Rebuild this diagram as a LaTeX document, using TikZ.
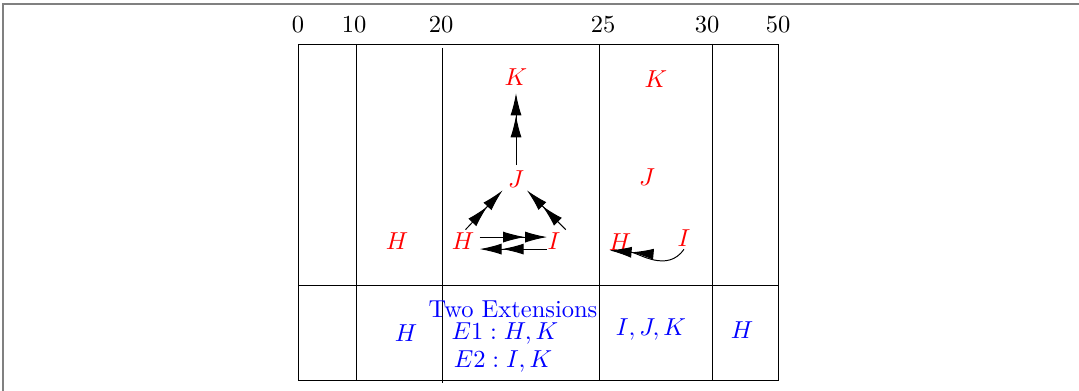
\documentclass[tikz,border=0pt]{standalone}
\usepackage{tikz}
\usetikzlibrary{arrows.meta}

\begin{document}
\begin{tikzpicture}[
	x=0.408pt, y=-0.408pt,
	arg/.style={text=red, inner sep=1pt},
	ext/.style={text=blue, inner sep=1pt},
	tick/.style={inner sep=1pt},
	att/.style={-{Latex[length=9pt,width=4.5pt]Latex[length=9pt,width=4.5pt]}}
]
\useasboundingbox (0,0) rectangle (1079,391);
\draw[gray, line width=0.8pt] (3,400) |- (1090,4);

% grid of the table
\draw (298,44) rectangle (778,380);
\draw (298,285) -- (778,285);
\draw (356,44) -- (356,380);
\draw (442,48) -- (442,383);
\draw (599,44) -- (599,380);
\draw (712,44) -- (712,380);

% column marks
\node[tick] (m0) at (298,25) {0};
\node[tick] (m10) at (354,25) {10};
\node[tick] (m20) at (441,25) {20};
\node[tick] (m25) at (603,25) {25};
\node[tick] (m30) at (707,25) {30};
\node[tick] (m50) at (778,25) {50};

% arguments
\node[arg] (H1) at (397,241) {$H$};

\node[arg] (K2) at (516,77) {$K$};
\node[arg] (J2) at (516,179) {$J$};
\node[arg] (H2) at (463,241) {$H$};
\node[arg] (I2) at (554,241) {$I$};

\node[arg] (K3) at (656,79) {$K$};
\node[arg] (J3) at (647,177) {$J$};
\node[arg] (H3) at (620,242) {$H$};
\node[arg] (I3) at (684,238) {$I$};

% attacks
\draw[att] ([yshift=1pt]J2.north) -- ([yshift=-2pt]K2.south);
\draw[att] ([xshift=1pt]H2.north) -- ([xshift=-1pt]J2.south west);
\draw[att] ([xshift=1pt]I2.north east) -- (J2.south east);
\draw[att] ([shift={(1pt,1.6pt)}]H2.east) -- ([shift={(1pt,1.6pt)}]I2.west);
\draw[att] ([shift={(1pt,-3.3pt)}]I2.west) -- ([shift={(1pt,-3.3pt)}]H2.east);
\draw[att] (I3.south) to[out=-125, in=-5] ([shift={(1.5pt,1.2pt)}]H3.south west);

% extensions
\node[ext] (e10) at (406,333) {$H$};
\node[ext] (etwo) at (513,309) {Two Extensions};
\node[ext] (eone) at (505,334) {$E1 : H, K$};
\node[ext] (etwob) at (503,362) {$E2 : I, K$};
\node[ext] (e25) at (651,330) {$I, J, K$};
\node[ext] (e30) at (742,330) {$H$};
\end{tikzpicture}
\end{document}
